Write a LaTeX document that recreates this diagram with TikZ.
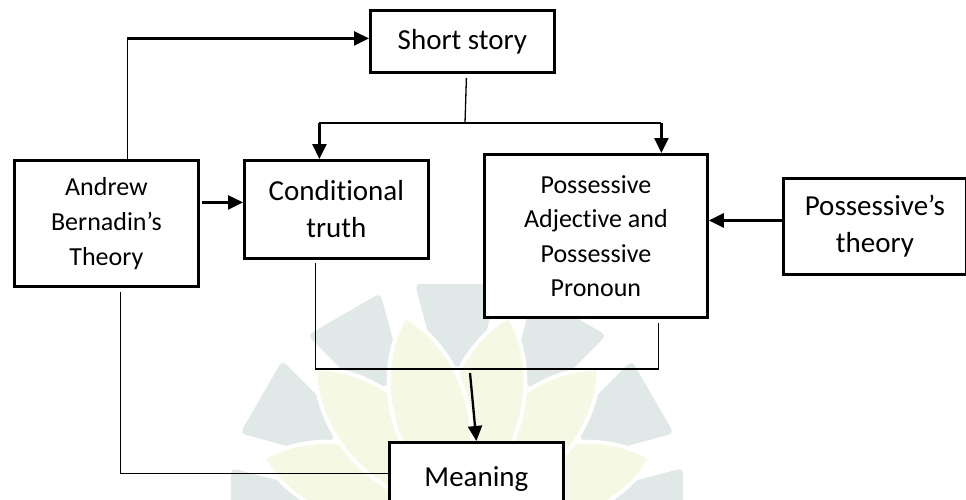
\documentclass[tikz,border=0pt]{standalone}
\usepackage{fontspec}
\setmainfont{Carlito}[Ligatures={NoCommon}]
\usetikzlibrary{arrows.meta}
\definecolor{wmgrey}{HTML}{E0E8E8}
\definecolor{wmyellow}{HTML}{F5F8E2}
\tikzset{
  box/.style={draw=black, line width=2.8pt, fill=white, inner sep=0pt, align=center, anchor=north west},
  bigtxt/.style={font=\fontsize{29}{37}\selectfont},
  midtxt/.style={font=\fontsize{26}{35}\selectfont},
  thinln/.style={line width=1.3pt},
  midln/.style={line width=1.7pt},
  arr/.style={line width=2.6pt, -{Triangle[length=15pt,width=14pt]}},
  wmpetal/.style={fill=wmgrey},
  wmleaf/.style={fill=wmyellow, draw=white, line width=4pt},
}
\begin{document}
\begin{tikzpicture}[x=1pt,y=-1pt]
\useasboundingbox (0,0) rectangle (966,499);
\clip (0,0) rectangle (966,499);
\fill[white] (0,0) rectangle (966,499);
% watermark
\begin{scope}[shift={(457,510)}, y=1pt]
  \foreach \a in {0,30,60,90,120,150,180}{
    \fill[wmpetal, rounded corners=5pt] (\a-8:145) -- (\a-10.5:230) -- (\a+10.5:230) -- (\a+8:145) -- cycle;
  }
  \foreach \a in {15,165,45,135,75,105}{
    \filldraw[wmleaf, rotate=\a] (0,0) .. controls (70,58) and (160,42) .. (200,0) .. controls (160,-42) and (70,-58) .. (0,0);
  }
\end{scope}
% boxes
\node[box, bigtxt, minimum width=184pt, minimum height=62pt] (S) at (369,9) {Short story};
\node[box, midtxt, minimum width=184pt, minimum height=126pt] (A) at (13,159) {Andrew\\Bernadin’s\\Theory};
\node[box, bigtxt, minimum width=184pt, minimum height=98pt] (C) at (243,159) {Conditional\\truth};
\node[box, font=\fontsize{26}{34.5}\selectfont, minimum width=223pt, minimum height=163pt] (P) at (483,153) {Possessive\\Adjective and\\Possessive\\Pronoun};
\node[box, bigtxt, minimum width=183pt, minimum height=96pt] (T) at (782,177) {Possessive’s\\theory};
\node[box, bigtxt, minimum width=174pt, minimum height=74pt] (M) at (388,441) {Meaning};
% connectors
\coordinate (s1) at ([yshift=3pt]S.west);
\coordinate (a1) at ([xshift=21pt]A.north);
\draw[thinln] (a1) -- (a1 |- s1);
\draw[arr] (a1 |- s1) -- (s1);
\coordinate (s2) at ([xshift=4pt,yshift=-4pt]S.south);
\coordinate (j) at (465,123);
\coordinate (c1) at ([xshift=-17pt]C.north);
\coordinate (p1) at ([xshift=65.5pt]P.north);
\draw[thinln] (s2) -- (j);
\draw[midln] (c1 |- j) -- (p1 |- j);
\draw[arr] (c1 |- j) -- (c1);
\draw[arr] (p1 |- j) -- (p1);
\coordinate (a2) at ([yshift=21pt]A.east);
\draw[arr] ([xshift=2pt]a2) -- (a2 -| C.west);
\coordinate (t1) at ([yshift=6pt]T.west);
\draw[arr] (t1) -- (t1 -| P.east);
\coordinate (c2) at ([xshift=-21pt,yshift=-3pt]C.south);
\coordinate (p2) at ([xshift=62.5pt,yshift=-4pt]P.south);
\coordinate (jb) at (0,369);
\draw[thinln] (c2) |- (p2 |- jb) -- (p2);
\coordinate (m0) at (470,373);
\draw[arr, line width=2.3pt] (m0) -- (M.north);
\coordinate (a3) at ([xshift=14pt,yshift=-4pt]A.south);
\coordinate (m1) at ([yshift=6pt]M.west);
\draw[thinln] (a3) |- (m1);
\end{tikzpicture}
\end{document}
